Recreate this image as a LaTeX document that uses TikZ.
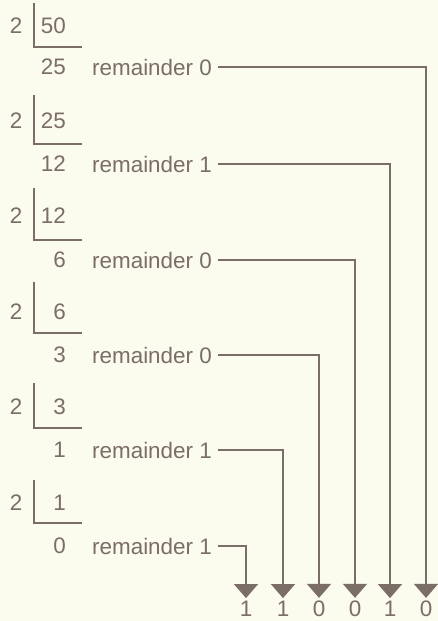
\documentclass[tikz,border=0pt]{standalone}
\usepackage{fontspec}
\setmainfont{Liberation Sans}
\usetikzlibrary{arrows.meta}
\definecolor{bg}{RGB}{251,251,238}
\definecolor{ink}{RGB}{122,110,103}
\begin{document}
\begin{tikzpicture}[x=1bp,y=-1bp,
  every node/.style={text=ink,font=\fontsize{22.5}{26}\selectfont,inner sep=0pt},
  rule/.style={draw=ink,line width=1.4bp},
  link/.style={draw=ink,line width=1.4bp,-{Triangle[width=24bp,length=14bp]},shorten >=3bp}]
\fill[bg] (0,0) rectangle (438,621);
\useasboundingbox (0,0) rectangle (438,621);
\foreach \i/\dv/\yd/\q/\yq/\r/\xl/\tp/\ul in {
  1/50/26/25/67/0/426/3/47,
  2/25/121/12/164/1/390/95/144,
  3/12/216/6/260/0/355/188/240,
  4/6/312/3/355/0/319/282/333,
  5/3/407/1/450/1/283/383/428,
  6/1/503/0/546/1/246/480/523}{
  \node (two\i) at (16,\yd) {2};
  \node[anchor=east] (dvd\i) at (66,\yd) {\dv};
  \coordinate (bt\i) at (34,\tp);
  \coordinate (bb\i) at (34,\ul);
  \coordinate (be\i) at (82,\ul);
  \draw[rule] (bt\i) -- (bb\i) -- (be\i);
  \node[anchor=east] (quo\i) at (66,\yq) {\q};
  \node[anchor=west] (rem\i) at (92,\yq) {remainder \r};
  \node (bit\i) at (\xl,609) {\r};
  \draw[link] ([xshift=6bp]rem\i.east) -| (bit\i.north);
}
\end{tikzpicture}
\end{document}
